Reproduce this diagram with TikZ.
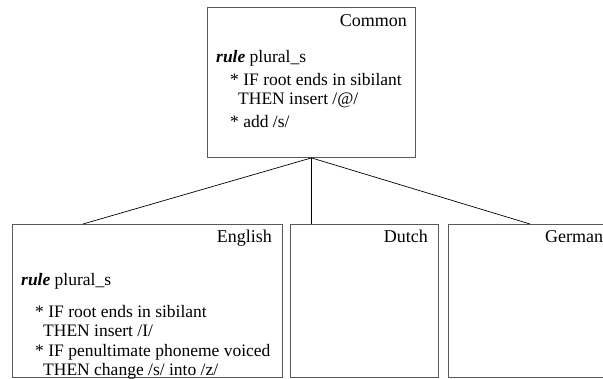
\documentclass[tikz,border=0pt]{standalone}
\usepackage{fontspec}
\setmainfont{Liberation Serif}
\begin{document}
\begin{tikzpicture}[x=1pt,y=-1pt,
  langbox/.style={draw=black!65, line width=0.9pt, inner sep=0pt, anchor=north west},
  title/.style={font=\fontsize{18}{21}\selectfont, anchor=base east, inner sep=0pt},
  ruleline/.style={font=\fontsize{17.5}{21}\selectfont, anchor=base west, inner sep=0pt},
  link/.style={draw=black, line width=0.7pt}]
  \useasboundingbox (0,0) rectangle (603,379);
  \clip (0,0) rectangle (603,379);

  % boxes
  \node[langbox, minimum width=208pt, minimum height=150pt] (common) at (207,7) {};
  \node[langbox, minimum width=270pt, minimum height=153pt] (english) at (12,224) {};
  \node[langbox, minimum width=148pt, minimum height=153pt] (dutch) at (290,224) {};
  \node[langbox, minimum width=170pt, minimum height=153pt] (german) at (448,224) {};

  % connectors
  \coordinate (entop) at (83,224);
  \coordinate (getop) at (530,224);
  \draw[link] (common.south) -- (entop);
  \draw[link] (common.south) -- (common.south |- dutch.north);
  \draw[link] (common.south) -- (getop);

  % names
  \node[title] (commonname) at (407,27) {Common};
  \node[title] (englishname) at (272,243) {English};
  \node[title] (dutchname) at (428,243) {Dutch};
  \node[title, anchor=base west] (germanname) at (545,243) {German};

  % rule in Common
  \node[ruleline] (crule) at (216,63) {\textbf{\textit{rule}} plural\_s};
  \node[ruleline] (cif) at (230,86) {* IF root ends in sibilant};
  \node[ruleline] (cthen) at (238,105) {THEN insert /@/};
  \node[ruleline] (cadd) at (230,128) {* add /s/};

  % rule in English
  \node[ruleline] (erule) at (21,286) {\textbf{\textit{rule}} plural\_s};
  \node[ruleline] (eif) at (35,318) {* IF root ends in sibilant};
  \node[ruleline] (ethen) at (43,337) {THEN insert /I/};
  \node[ruleline] (evoice) at (35,357) {* IF penultimate phoneme voiced};
  \node[ruleline] (echange) at (43,376) {THEN change /s/ into /z/};
\end{tikzpicture}
\end{document}
